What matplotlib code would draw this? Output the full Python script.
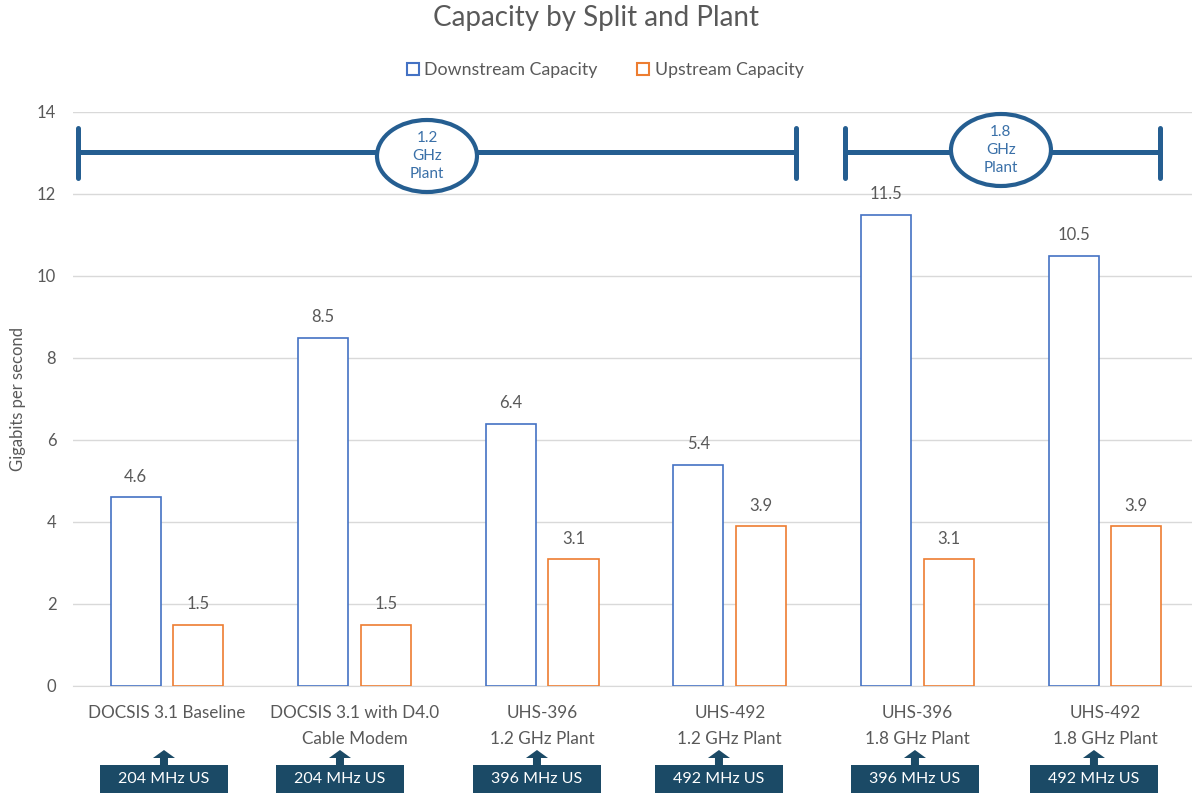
import matplotlib
matplotlib.use("Agg")
import matplotlib.pyplot as plt
import matplotlib.transforms as mtransforms
from matplotlib.patches import Ellipse, Rectangle, Patch, FancyArrow
import numpy as np

plt.rcParams['font.family'] = ['Lato', 'DejaVu Sans']

categories = ["DOCSIS 3.1 Baseline", "DOCSIS 3.1 with D4.0\nCable Modem",
              "UHS-396\n1.2 GHz Plant", "UHS-492\n1.2 GHz Plant",
              "UHS-396\n1.8 GHz Plant", "UHS-492\n1.8 GHz Plant"]
downstream = [4.6, 8.5, 6.4, 5.4, 11.5, 10.5]
upstream = [1.5, 1.5, 3.1, 3.9, 3.1, 3.9]
split_labels = ["204 MHz US", "204 MHz US", "396 MHz US", "492 MHz US", "396 MHz US", "492 MHz US"]
plant_labels = ["1.2\nGHz\nPlant", "1.8\nGHz\nPlant"]

W, H = 1192, 793
fig = plt.figure(figsize=(W / 100, H / 100), dpi=100)
ax = fig.add_axes([73 / W, (H - 686) / H, (1192 - 73) / W, (686 - 112) / H])

grey = "#595959"
blue = "#4472C4"
orange = "#ED7D31"
dark = "#255E91"
navy = "#1B4A66"

x = np.arange(len(categories))
bw = 0.267
off = 0.167
ax.bar(x - off, downstream, bw, facecolor="white", edgecolor=blue, linewidth=1.2,
       label="Downstream Capacity", zorder=3)
ax.bar(x + off, upstream, bw, facecolor="white", edgecolor=orange, linewidth=1.2,
       label="Upstream Capacity", zorder=3)

for xi, v in zip(x, downstream):
    ax.text(xi - off, v + 0.3, f"{v}", ha="center", va="bottom", fontsize=12, color=grey)
for xi, v in zip(x, upstream):
    ax.text(xi + off, v + 0.3, f"{v}", ha="center", va="bottom", fontsize=12, color=grey)

ax.set_xlim(-0.501, 5.464)
ax.set_ylim(0, 14)
ax.set_yticks(range(0, 15, 2))
ax.yaxis.grid(True, color="#D9D9D9", linewidth=1)
ax.set_axisbelow(True)
for s in ["top", "right", "left"]:
    ax.spines[s].set_visible(False)
ax.spines["bottom"].set_color("#D9D9D9")
ax.tick_params(axis="both", length=0, colors=grey, labelsize=12)
ax.tick_params(axis="y", pad=12)
ax.set_xticks(x)
ax.set_xticklabels(categories, fontsize=12.3, color=grey, linespacing=1.75)
ax.tick_params(axis="x", pad=14)
ax.set_ylabel("Gigabits per second", fontsize=12, color=grey, labelpad=8)

fig.text(0.5, 1 - 18 / H, "Capacity by Split and Plant", ha="center", va="center",
         fontsize=20, color=grey)
handles = [Patch(facecolor="white", edgecolor=blue, linewidth=1.5),
           Patch(facecolor="white", edgecolor=orange, linewidth=1.5)]
fig.legend(handles, ["Downstream Capacity", "Upstream Capacity"], loc="center",
           bbox_to_anchor=(605 / W, 1 - 70 / H), ncol=2, frameon=False,
           fontsize=12.8, labelcolor=grey, handlelength=0.7, handleheight=0.7,
           handletextpad=0.3, columnspacing=2.2)

# plant brackets (px -> data conversions)
pxu = 187.6
def px2x(px):
    return (px - 167) / pxu

ybr = 13.02
brackets = [(78, 796, 427, 156), (845, 1160, 1001, 150)]
for (x0, x1, ex, ey), lab in zip(brackets, plant_labels):
    ax.plot([px2x(x0), px2x(x1)], [ybr, ybr], color=dark, linewidth=3.6,
            solid_capstyle="butt", zorder=4, clip_on=False)
    for xe in (x0, x1):
        ax.plot([px2x(xe), px2x(xe)], [12.4, 13.6], color=dark, linewidth=3.6,
                solid_capstyle="round", zorder=4, clip_on=False)
    ecy = (686 - ey) / 41
    ax.add_patch(Ellipse((px2x(ex), ecy), 100 / pxu, 72 / 41, facecolor="white",
                         edgecolor=dark, linewidth=3.0, zorder=5, clip_on=False))
    ax.text(px2x(ex), ecy, lab, ha="center", va="center", fontsize=11,
            color="#3A70A8", linespacing=1.35, zorder=6)

# split boxes
trans = mtransforms.blended_transform_factory(ax.transData, fig.transFigure)
box_px = [164, 340, 537, 719, 915, 1094]
for bp, lab in zip(box_px, split_labels):
    cx = px2x(bp)
    bwid = 128 / pxu
    fig.patches.append(Rectangle((cx - bwid / 2, 0), bwid, 28 / H, transform=trans,
                                 facecolor=navy, edgecolor="none"))
    fig.text(cx, 14 / H, lab, transform=trans, ha="center", va="center",
             fontsize=11.5, color="white")
    fig.patches.append(FancyArrow(cx, 28 / H, 0, 15 / H, width=8 / pxu,
                                  head_width=22 / pxu, head_length=8 / H,
                                  length_includes_head=True, transform=trans,
                                  facecolor=navy, edgecolor="none"))

fig.savefig("out.png", dpi=100, facecolor="white")
